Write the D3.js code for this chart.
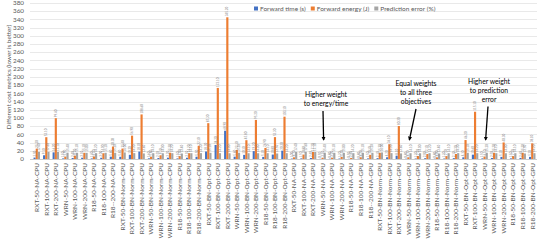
<!DOCTYPE html>
<html lang="en">
<head>
  <meta charset="UTF-8">
  <script src="https://d3js.org/d3.v7.min.js"></script>
  <title>Different cost metrics</title>
  <style>
    body {
      margin: 0;
      background: #fff;
      font-family: Lato, "Open Sans", sans-serif;
      overflow: hidden;
    }
    .tick-label, .cat-label, .legend text, .axis-title {
      fill: #595959;
    }
    .note {
      fill: #000;
      font-size: 6.8px;
    }
  </style>
</head>
<body>
<script>
  // Chart data
  const categories = [
    "RXT-50-NA-CPU", "RXT-100-NA-CPU", "RXT-200-NA-CPU",
    "WRN-50-NA-CPU", "WRN-100-NA-CPU", "WRN-200-NA-CPU",
    "R18-50-NA-CPU", "R18-100-NA-CPU", "R18--200-NA-CPU",
    "RXT-50-BN-Norm-CPU", "RXT-100-BN-Norm-CPU", "RXT-200-BN-Norm-CPU",
    "WRN-50-BN-Norm-CPU", "WRN-100-BN-Norm-CPU", "WRN-200-BN-Norm-CPU",
    "R18-50-BN-Norm-CPU", "R18-100-BN-Norm-CPU", "R18-200-BN-Norm-CPU",
    "RXT-50-BN-Opt-CPU", "RXT-100-BN-Opt-CPU", "RXT-200-BN-Opt-CPU",
    "WRN-50-BN-Opt-CPU", "WRN-100-BN-Opt-CPU", "WRN-200-BN-Opt-CPU",
    "R18-50-BN-Opt-CPU", "R18-100-BN-Opt-CPU", "R18-200-BN-Opt-CPU",
    "RXT-50-NA-GPU", "RXT-100-NA-GPU", "RXT-200-NA-GPU",
    "WRN-50-NA-GPU", "WRN-100-NA-GPU", "WRN-200-NA-GPU",
    "R18-50-NA-GPU", "R18-100-NA-GPU", "R18--200-NA-GPU",
    "RXT-50-BN-Norm-GPU", "RXT-100-BN-Norm-GPU", "RXT-200-BN-Norm-GPU",
    "WRN-50-BN-Norm-GPU", "WRN-100-BN-Norm-GPU", "WRN-200-BN-Norm-GPU",
    "R18-50-BN-Norm-GPU", "R18-100-BN-Norm-GPU", "R18-200-BN-Norm-GPU",
    "RXT-50-BN-Opt-GPU", "RXT-100-BN-Opt-GPU",
    "WRN-50-BN-Opt-GPU", "WRN-100-BN-Opt-GPU", "WRN-200-BN-Opt-GPU",
    "R18-50-BN-Opt-GPU", "R18-100-BN-Opt-GPU", "R18-200-BN-Opt-GPU"
  ];

  const forwardTime = [
    3.5, 9.1, 16.2, 1.5, 2.4, 3.1, 1.4, 3.0, 5.6,
    5.4, 10.2, 18.1, 1.6, 2.5, 3.2, 1.5, 3.1, 5.5,
    18.3, 34.2, 68.9, 5.6, 10.1, 19.2, 5.1, 10.8, 20.3,
    1.0, 1.5, 2.4, 0.5, 0.8, 1.2, 0.5, 0.8, 1.5,
    2.1, 4.2, 8.1, 0.8, 1.2, 2.0, 0.8, 1.2, 2.1,
    4.1, 10.6, 1.5, 2.5, 5.1, 1.5, 2.6, 5.2
  ];

  const forwardEnergy = [
    25.2, 53.1, 99.4, 5.9, 8.2, 15.1, 6.2, 14.0, 30.3,
    25.4, 56.9, 108.6, 5.6, 9.1, 15.3, 7.0, 14.2, 32.1,
    87.3, 173.1, 345.2, 22.1, 45.8, 95.2, 26.9, 53.3, 103.1,
    4.1, 10.8, 17.2, 3.1, 3.2, 5.1, 2.6, 4.2, 10.1,
    15.2, 36.1, 80.3, 4.1, 7.2, 12.1, 4.0, 7.1, 12.2,
    46.2, 115.1, 6.1, 15.2, 40.3, 7.1, 15.2, 38.1
  ];

  const predictionError = [
    17.4, 17.6, 17.1, 15.4, 15.1, 15.0, 14.2, 15.1, 15.2,
    16.0, 14.3, 13.6, 14.1, 14.0, 14.2, 13.4, 14.1, 14.3,
    15.1, 14.2, 14.0, 15.2, 14.1, 14.0, 14.1, 13.5, 14.2,
    17.4, 17.6, 17.1, 15.4, 15.1, 15.0, 14.2, 15.1, 15.2,
    16.0, 14.3, 13.6, 14.1, 14.0, 14.2, 13.4, 14.1, 14.3,
    15.1, 14.2, 15.2, 14.1, 14.0, 14.1, 13.5, 14.2
  ];

  const seriesNames = ["Forward time (s)", "Forward energy (J)", "Prediction error (%)"];
  const seriesColors = ["#4472C4", "#ED7D31", "#A5A5A5"];
  const yTicks = [0, 20, 40, 60, 80, 100, 120, 140, 160, 180, 200, 220, 240, 260, 280, 300, 320, 340, 360, 380];

  // Annotation texts and the category each arrow points at
  const notes = [
    { lines: ["Higher weight", "to energy/time"], target: "WRN-50-NA-GPU" },
    { lines: ["Equal weights", "to all three", "objectives"], target: "WRN-50-BN-Norm-GPU" },
    { lines: ["Higher weight", "to prediction", "error"], target: "WRN-50-BN-Opt-GPU" }
  ];

  const width = 538;
  const height = 243;
  const plot = { left: 32, right: 537, top: 3, bottom: 159 };

  const rows = categories.map((c, i) => ({
    name: c,
    values: [forwardTime[i], forwardEnergy[i], predictionError[i]]
  }));

  const svg = d3.select("body").append("svg")
    .attr("width", width)
    .attr("height", height);

  // Scales
  const x0 = d3.scaleBand()
    .domain(categories)
    .range([plot.left, plot.right])
    .paddingInner(0.32)
    .paddingOuter(0.16);

  const x1 = d3.scaleBand()
    .domain(d3.range(seriesNames.length))
    .range([0, x0.bandwidth()]);

  const y = d3.scaleLinear()
    .domain([0, 380])
    .range([plot.bottom, plot.top]);

  // Grid lines + y tick labels
  svg.append("g")
    .selectAll("line")
    .data(yTicks)
    .enter().append("line")
    .attr("x1", 30)
    .attr("x2", plot.right)
    .attr("y1", d => Math.round(y(d)) + 0.5)
    .attr("y2", d => Math.round(y(d)) + 0.5)
    .attr("stroke", d => d === 0 ? "#bfbfbf" : "#e3e3e3")
    .attr("stroke-width", 0.8);

  svg.append("g")
    .selectAll("text")
    .data(yTicks)
    .enter().append("text")
    .attr("class", "tick-label")
    .attr("x", 24)
    .attr("y", d => y(d))
    .attr("dy", "0.35em")
    .attr("text-anchor", "end")
    .style("font-size", "6.3px")
    .text(d => d);

  // Y axis title
  svg.append("text")
    .attr("class", "axis-title")
    .attr("transform", "translate(10.5,77) rotate(-90)")
    .attr("text-anchor", "middle")
    .style("font-size", "6.3px")
    .text("Different cost metrics (lower is better)");

  // Bars
  const groups = svg.append("g")
    .selectAll("g")
    .data(rows)
    .enter().append("g")
    .attr("transform", d => `translate(${x0(d.name)},0)`);

  groups.selectAll("rect")
    .data(d => d.values)
    .enter().append("rect")
    .attr("x", (d, i) => x1(i))
    .attr("width", x1.bandwidth())
    .attr("y", d => y(d))
    .attr("height", d => y(0) - y(d))
    .attr("fill", (d, i) => seriesColors[i]);

  // Tiny data labels over every bar
  groups.selectAll("text")
    .data(d => d.values)
    .enter().append("text")
    .attr("transform", (d, i) => `translate(${x1(i) + x1.bandwidth() / 2 + 1},${y(d) - 1}) rotate(-90)`)
    .attr("text-anchor", "start")
    .style("font-size", "3px")
    .attr("fill", "#7f7f7f")
    .text(d => d3.format(".2f")(d));

  // Category labels
  svg.append("g")
    .selectAll("text")
    .data(categories)
    .enter().append("text")
    .attr("class", "cat-label")
    .attr("transform", d => `translate(${x0(d) + x0.bandwidth() / 2},163) rotate(-90)`)
    .attr("dy", "0.35em")
    .attr("text-anchor", "end")
    .style("font-size", "6.5px")
    .text(d => d);

  // Legend
  const legend = svg.append("g").attr("class", "legend");
  let lx = 254;
  seriesNames.forEach((name, i) => {
    legend.append("rect")
      .attr("x", lx)
      .attr("y", 6.5)
      .attr("width", 4)
      .attr("height", 4)
      .attr("fill", seriesColors[i]);
    const t = legend.append("text")
      .attr("x", lx + 6)
      .attr("y", 8.5)
      .attr("dy", "0.35em")
      .style("font-size", "6.5px")
      .text(name);
    lx += 6 + t.node().getComputedTextLength() + 5;
  });

  // Arrow marker
  svg.append("defs").append("marker")
    .attr("id", "arrowhead")
    .attr("viewBox", "0 -5 10 10")
    .attr("refX", 8)
    .attr("refY", 0)
    .attr("orient", "auto")
    .attr("markerWidth", 3.2)
    .attr("markerHeight", 3.2)
    .append("path")
    .attr("d", "M0,-5L10,0L0,5Z")
    .attr("fill", "#000");

  // Annotations: text block + arrow down to the target category
  const noteLayout = [
    { cx: 326, top: 97, ax: 323 },
    { cx: 416, top: 86, ax: 416 },
    { cx: 489, top: 83.5, ax: 488 }
  ];
  notes.forEach((n, i) => {
    const lay = noteLayout[i];
    const txt = svg.append("text")
      .attr("class", "note")
      .attr("text-anchor", "middle");
    n.lines.forEach((line, j) => {
      txt.append("tspan")
        .attr("x", lay.cx)
        .attr("y", lay.top + j * 9)
        .text(line);
    });
    const tx = x0(n.target) + x0.bandwidth() / 2;
    svg.append("line")
      .attr("x1", lay.ax)
      .attr("y1", lay.top + (n.lines.length - 1) * 9 + 5)
      .attr("x2", tx + 1)
      .attr("y2", 140)
      .attr("stroke", "#000")
      .attr("stroke-width", 1.3)
      .attr("marker-end", "url(#arrowhead)");
  });
</script>
</body>
</html>
